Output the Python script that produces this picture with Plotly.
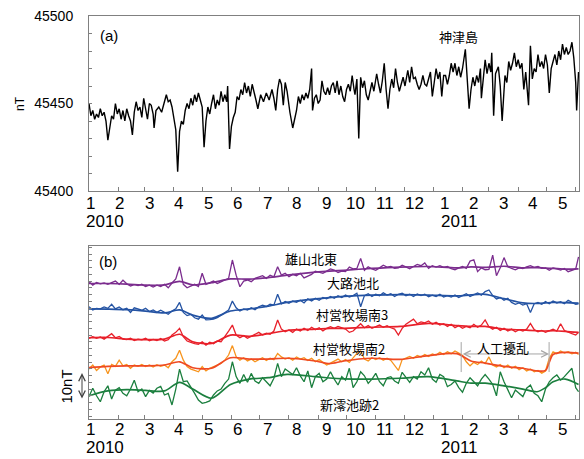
import pandas as pd
import plotly.graph_objects as go

BASE = pd.Timestamp("2010-01-01")

# ---------------- panel (a): 神津島 total intensity (nT) ----------------
a_days = [0, 2, 4, 6, 8, 10, 12, 14, 16, 18, 20, 22, 24, 26, 28, 30, 32, 34, 36, 38,
          40, 42, 44, 46, 48, 50, 52, 54, 56, 58, 60, 62, 64, 66, 68, 69, 71, 74, 77, 79,
          82, 84, 86, 88, 90, 92, 94, 96, 98, 100, 102, 104, 106, 108, 110, 112, 114, 116, 118, 120,
          122, 124, 126, 128, 130, 132, 134, 136, 138, 140, 142, 144, 146, 147, 149, 151, 153, 155, 157, 159,
          161, 163, 165, 167, 169, 171, 173, 175, 177, 179, 182, 185, 188, 191, 194, 196, 198, 200, 202, 204,
          206, 208, 210, 213, 215, 216, 218, 220, 222, 224, 226, 228, 230, 232, 234, 236, 237, 239, 241, 243,
          245, 247, 249, 251, 253, 255, 257, 259, 261, 263, 265, 267, 269, 271, 273, 275, 277, 279, 281, 282,
          284, 286, 288, 290, 292, 294, 296, 298, 300, 302, 305, 307, 309, 311, 313, 315, 317, 319, 321, 323,
          325, 327, 329, 331, 333, 335, 338, 340, 342, 344, 346, 348, 350, 352, 354, 356, 358, 360, 362, 364,
          366, 368, 370, 372, 374, 376, 378, 380, 382, 384, 386, 388, 390, 392, 394, 396, 399, 401, 403, 405,
          407, 409, 411, 413, 415, 416, 418, 420, 422, 424, 426, 427, 429, 431, 434, 436, 438, 440, 441, 443,
          445, 447, 449, 451, 453, 455, 457, 459, 461, 463, 466, 468, 470, 472, 474, 476, 478, 480, 482, 484,
          486, 488, 490, 492, 494, 496, 498, 500, 502, 504, 506, 508, 510, 512, 514, 516, 517, 519]
a_vals = [45450, 45443, 45446, 45441, 45444, 45442, 45447, 45443, 45445, 45440,
          45429, 45437, 45443, 45441, 45450, 45444, 45447, 45441, 45446, 45440,
          45447, 45443, 45440, 45432, 45445, 45451, 45446, 45448, 45442, 45453,
          45447, 45441, 45450, 45449, 45444, 45436, 45446, 45448, 45445, 45449,
          45455, 45451, 45452, 45448, 45441, 45435, 45411, 45434, 45440, 45438,
          45446, 45450, 45447, 45453, 45449, 45455, 45451, 45456, 45452, 45448,
          45425, 45440, 45448, 45444, 45450, 45455, 45447, 45452, 45449, 45457,
          45451, 45455, 45451, 45460, 45424, 45437, 45442, 45445, 45454, 45452,
          45458, 45455, 45462, 45456, 45460, 45454, 45461, 45457, 45452, 45447,
          45455, 45451, 45456, 45452, 45458, 45453, 45446, 45458, 45464, 45461,
          45449, 45462, 45457, 45445, 45440, 45436, 45441, 45446, 45454, 45450,
          45455, 45452, 45456, 45453, 45458, 45470, 45446, 45453, 45455, 45450,
          45452, 45463, 45457, 45455, 45459, 45455, 45460, 45462, 45456, 45463,
          45455, 45460, 45454, 45451, 45458, 45461, 45457, 45466, 45458, 45455,
          45464, 45430, 45465, 45459, 45463, 45455, 45452, 45458, 45462, 45457,
          45467, 45461, 45456, 45463, 45473, 45458, 45447, 45458, 45464, 45459,
          45470, 45462, 45457, 45461, 45465, 45460, 45469, 45462, 45471, 45464,
          45465, 45461, 45458, 45461, 45466, 45461, 45460, 45464, 45468, 45454,
          45463, 45470, 45464, 45468, 45454, 45466, 45466, 45461, 45466, 45473,
          45468, 45473, 45466, 45471, 45465, 45470, 45481, 45465, 45447, 45458,
          45465, 45460, 45466, 45462, 45470, 45453, 45466, 45475, 45467, 45473,
          45468, 45479, 45443, 45467, 45471, 45460, 45440, 45458, 45466, 45462,
          45474, 45469, 45473, 45479, 45471, 45475, 45470, 45473, 45458, 45468,
          45449, 45483, 45464, 45470, 45468, 45478, 45471, 45474, 45470, 45478,
          45472, 45456, 45470, 45474, 45478, 45472, 45480, 45475, 45484, 45478,
          45482, 45478, 45480, 45485, 45476, 45462, 45446, 45468]

# ---------------- panel (b): station differences (nT, relative) ----------------
b_days = list(range(0, 517, 4)) + [519]
station_names = ["雄山北東", "大路池北", "村営牧場南3", "村営牧場南2", "新澪池跡2"]

oyama_ne = [0.9, -0.4, 0.6, 0.1, 0.4, -0.1, 0.5, 1.1, -0.1, 1.4,
            0.1, -0.7, -0.2, -0.6, -0.1, -0.9, -0.4, -1.1, -0.4, -0.9,
            -0.1, -1.4, 0.4, 1.9, 6.4, -0.1, -1.4, -0.7, -0.1, -0.9,
            4.0, -0.1, 0.6, 1.1, 0.2, 0.9, 1.5, 2.1, 8.9, 3.3,
            -1.0, 1.1, 1.5, 0.9, 2.1, 2.7, 3.1, 2.1, 3.3, 2.7,
            6.4, 3.3, 4.0, 2.7, 3.6, 3.1, 4.0, 2.3, 3.1, 3.6,
            4.8, 4.3, 4.0, 4.8, 5.6, 5.2, 4.3, 4.8, 4.6, 6.3,
            5.6, 5.8, 9.5, 5.1, 6.4, 5.6, 5.1, 6.0, 7.0, 6.3,
            6.5, 5.8, 6.0, 7.0, 6.3, 5.7, 6.5, 7.3, 6.8, 7.8,
            5.8, 6.8, 6.3, 6.8, 6.2, 6.5, 5.7, 5.3, 6.0, 6.5,
            5.8, 8.5, 9.0, 4.6, 6.0, 5.3, 5.4, 10.7, 3.1, 6.0,
            9.8, 6.4, 5.8, 5.3, 6.0, 5.7, 6.4, 6.8, 6.2, 6.5,
            5.8, 6.0, 5.1, 6.0, 5.6, 5.2, 5.8, 4.6, 5.1, 5.6,
            10.1]
oji_n = [0.6, -0.6, 0.0, -0.2, 0.5, 0.0, 1.5, -0.2, 0.5, -0.5,
         0.0, -1.5, 0.2, -0.2, -0.7, 0.0, -1.2, -0.6, -1.5, -0.7,
         -1.5, -2.2, -1.0, -0.2, 2.2, -1.5, -2.7, -2.2, -3.5, -4.0,
         -2.5, -4.3, -4.2, -4.0, -3.5, -2.5, -1.5, -0.6, 2.7, 0.2,
         -1.0, -0.2, -0.6, 0.2, -0.5, 0.6, 1.2, 0.7, 1.5, 1.2,
         5.2, 1.7, 2.5, 1.9, 2.7, 2.2, 3.0, 2.0, 3.5, 2.7,
         3.7, 3.0, 4.0, 3.5, 4.4, 3.7, 4.7, 4.0, 4.9, 4.2,
         4.7, 5.6, 0.6, 4.7, 5.4, 4.4, 5.2, 4.7, 5.8, 4.9,
         5.4, 4.4, 5.2, 5.6, 4.7, 5.2, 4.4, 5.3, 4.7, 5.2,
         4.3, 4.9, 4.4, 5.2, 4.2, 4.7, 4.2, 4.9, 4.0, 4.7,
         5.4, 4.4, 5.2, 5.7, 4.9, 6.2, 6.8, 4.7, 3.5, 4.0,
         3.0, 3.7, 2.2, 1.5, 2.0, 1.2, 1.7, -1.5, 1.7, 2.2,
         1.5, 2.5, 1.7, 2.7, 2.0, 2.5, 1.7, 3.0, 2.2, 1.5,
         1.7]
farm_s3 = [-0.1, 0.5, -0.1, 0.4, -0.4, 0.6, 1.6, 0.1, 0.6, -0.4,
           -0.6, -0.1, -0.9, -0.4, -0.7, -0.1, -1.0, -0.5, -0.9, -0.2,
           -1.1, -0.6, 1.1, 2.1, 3.6, 0.5, -1.1, -1.6, -2.1, -2.3,
           -1.4, -2.6, -1.6, -2.1, -1.1, -1.4, 0.5, 2.6, 4.8, 1.1,
           0.1, 0.9, -0.1, 0.6, 1.1, 2.1, 1.1, 1.8, 1.4, 2.6,
           6.7, 3.3, 2.3, 3.0, 2.1, 3.3, 2.6, 3.6, 2.8, 4.0,
           3.1, 3.8, 2.6, 3.6, 4.2, 3.6, 4.3, 3.8, 3.3, 2.1,
           2.6, 4.0, 5.3, 3.8, 4.6, 3.6, 4.3, 4.8, 4.0, 4.6,
           3.8, 3.3, 1.1, 3.6, 5.1, 6.0, 7.0, 5.3, 6.0, 5.6,
           6.3, 5.1, 5.8, 4.8, 5.3, 4.3, 5.1, 3.8, 4.6, 3.6,
           4.3, 3.8, 5.1, 4.0, 4.8, 6.7, 4.2, 3.3, 4.0, 2.8,
           3.6, 2.6, 3.3, 2.3, 3.1, 2.6, 3.3, 5.4, 3.1, 2.3,
           2.8, 2.1, 2.6, 3.3, 2.6, 5.3, 2.8, 2.1, 1.6, 1.1,
           2.1]
farm_s2 = [-1.0, 0.5, -1.5, -0.2, 0.5, -2.7, 0.7, 0.0, 2.3, 0.2,
           0.7, -0.7, 0.5, 0.0, 0.7, -0.1, 0.5, -0.2, 0.6, 0.0,
           0.5, -0.5, 1.7, 3.0, 6.0, 2.3, -0.1, -1.0, -1.5, -2.0,
           -0.1, -1.7, -0.7, -0.2, 0.5, 1.1, 2.3, 4.2, 7.7, 3.6,
           2.3, 3.2, 2.0, 2.7, 1.7, 2.5, 3.2, 2.2, 3.0, 2.5,
           4.8, 3.5, 2.7, 3.2, 2.3, 3.5, 2.7, 3.2, 2.2, 3.0,
           1.7, 2.5, 1.5, 0.5, 1.2, 2.0, 2.7, 1.7, 2.5, 1.5,
           3.0, 4.8, 5.7, 2.7, 2.0, 3.2, 2.5, 3.2, 2.3, 3.0,
           2.2, 0.5, -1.5, 2.5, 3.2, 3.7, 3.0, 4.0, 3.5, 4.4,
           3.7, 4.6, 4.2, 5.2, 4.4, 5.4, 4.7, 5.7, 4.9, 4.0,
           1.7, 0.2, 1.5, 0.7, 2.0, 1.0, 3.5, 0.5, -0.2, 0.7,
           -0.5, 0.5, -0.7, 0.0, -1.2, -0.5, -1.7, -1.0, -2.0, -1.5,
           -2.5, -1.7, 3.0, 5.4, 4.7, 5.7, 4.9, 5.4, 4.7, 5.2,
           4.4]
shinmio2 = [-1.7, 1.4, -1.4, -3.6, 0.1, 2.3, -2.6, 0.7, 1.6, -0.5,
            -1.4, 1.1, 4.4, 0.1, 1.1, -1.7, 0.6, -0.4, 1.4, 2.1,
            -1.1, -0.5, -4.8, 1.1, 8.5, 3.8, 4.1, 2.0, -0.5, -3.0,
            -4.2, -3.8, -3.3, -1.1, 0.4, 1.1, 3.2, 4.8, 11.2, 5.7,
            3.2, 6.5, 3.6, 6.9, 4.1, 3.2, 5.3, 3.8, 2.3, 5.1,
            10.6, 5.7, 8.5, 7.5, 6.5, 9.0, 6.0, 3.8, 7.8, 1.6,
            5.7, 6.9, 3.8, 4.8, 7.5, 4.8, 2.6, 5.7, 4.4, 8.8,
            1.6, 3.8, 7.5, 6.0, 3.2, 4.8, 6.9, 3.8, 2.3, 5.3,
            5.7, 4.1, 3.2, 7.3, 5.3, 3.6, 5.7, 4.8, 7.5, 6.3,
            9.0, 4.8, 3.6, 6.5, 5.7, 2.0, 2.8, 4.1, 1.6, -0.1,
            3.2, 5.3, 3.8, 2.3, 4.8, 6.5, 4.8, 2.8, -1.4, 7.5,
            3.8, 1.1, -2.1, 0.7, -0.5, -1.7, 1.4, 2.6, -0.5, -1.4,
            -3.6, 1.1, 3.8, 5.3, 6.3, 4.4, 5.7, 7.3, 8.8, 1.6,
            0.1]

# smoothed (trend) curves
smooth_days = [0, 20, 40, 60, 80, 96, 110, 130, 150, 170, 190, 210, 240, 255,
               270, 300, 330, 360, 390, 405, 420, 440, 460, 475, 484, 492, 505, 519]
oyama_ne_s = [0.2, 0.2, 0.0, -0.4, -0.3, 1.0, -0.3, 0.5, 1.9, 1.8, 2.4, 3.3, 4.4, 4.8,
              5.1, 5.8, 6.3, 6.5, 6.0, 6.4, 6.2, 6.6, 6.0, 6.1, 5.9, 5.8, 5.5, 5.6]
oji_n_s = [-0.2, -0.3, -0.5, -1.0, -1.7, -0.6, -2.5, -3.7, -1.0, -0.2, 0.8, 2.2, 3.5, 4.0,
           4.4, 4.9, 5.1, 4.9, 4.6, 5.0, 5.2, 3.6, 2.0, 1.8, 2.0, 2.2, 2.1, 1.9]
farm_s3_s = [0.1, 0.2, -0.4, -0.6, -0.4, 1.4, -1.4, -2.0, 1.1, 0.6, 1.6, 2.8, 3.3, 3.6,
             3.6, 4.0, 4.3, 5.4, 4.6, 4.3, 4.3, 3.3, 3.0, 2.7, 2.6, 2.7, 2.5, 2.1]
farm_s2_s = [-0.5, 0.0, 0.2, 0.2, 0.5, 1.7, -0.5, -0.7, 3.2, 2.7, 2.7, 3.0, 2.0, 1.0,
             2.0, 3.0, 2.6, 4.0, 4.7, 2.0, 1.2, 0.0, -0.7, -1.7, -1.5, 4.4, 5.2, 4.9]
shinmio2_s = [-1.4, 0.4, 0.9, 0.6, 0.4, 3.6, 1.1, -2.3, 2.8, 4.8, 5.3, 6.5, 5.7, 5.2,
              4.9, 4.8, 5.1, 5.7, 4.1, 3.3, 3.3, 2.3, 1.1, 0.1, 1.6, 3.8, 4.8, 2.8]

# artificial disturbance period (days from 2010-01-01) and scale bar
disturb_start, disturb_end = 394.6, 487.8
scale_nT = 10

month_labels = ["1", "2", "3", "4", "5", "6", "7", "8", "9", "10", "11", "12",
                "1", "2", "3", "4", "5"]
year_labels = ["2010", "2011"]

# ---------------- styling / layout (positions) ----------------
raw_series = [oyama_ne, oji_n, farm_s3, farm_s2, shinmio2]
smooth_series = [oyama_ne_s, oji_n_s, farm_s3_s, farm_s2_s, shinmio2_s]
offsets = [50, 41, 30, 19.5, 10]
raw_colors = ["#7b2d8e", "#2453a3", "#e8202a", "#f7941d", "#1b7f3e"]
smooth_colors = ["#7b2d8e", "#2453a3", "#e8202a", "#ef4a23", "#1b7f3e"]
label_pos = [(235, 59.6), (280, 50.4), (279, 38.9), (276, 26.3), (276, 5.2)]


def to_dates(days):
    return BASE + pd.to_timedelta(pd.Series(days, dtype=float), unit="D")


W, H = 584, 459
L, R, T, B = 89, 5, 16, 40
PW, PH = W - L - R, H - T - B


def px_x(px):
    return (px - L) / PW


def px_y(py):
    return (H - B - py) / PH


FONT = "Liberation Sans, Arial, sans-serif"
JFONT = "Noto Sans CJK JP, sans-serif"

fig = go.Figure()

fig.add_trace(go.Scatter(x=to_dates(a_days), y=a_vals, mode="lines",
                         line=dict(color="black", width=1.4), xaxis="x", yaxis="y",
                         showlegend=False, hoverinfo="skip"))

for vals, svals, off, rc, sc in zip(raw_series, smooth_series, offsets, raw_colors, smooth_colors):
    fig.add_trace(go.Scatter(x=to_dates(b_days), y=[v + off for v in vals], mode="lines",
                             line=dict(color=rc, width=1.3), xaxis="x2", yaxis="y2",
                             showlegend=False, hoverinfo="skip"))
    fig.add_trace(go.Scatter(x=to_dates(smooth_days), y=[v + off for v in svals], mode="lines",
                             line=dict(color=sc, width=1.7, shape="spline", smoothing=0.8),
                             xaxis="x2", yaxis="y2", showlegend=False, hoverinfo="skip"))

x_end = BASE + pd.Timedelta(days=519.5)
month_ticks = pd.date_range("2010-02-01", "2011-06-01", freq="MS")
xcommon = dict(type="date", range=[BASE, x_end], tickvals=month_ticks, showticklabels=False,
               ticks="inside", ticklen=4, tickcolor="#808080", showline=True, linecolor="#808080",
               linewidth=1, mirror=True, showgrid=False, zeroline=False, automargin=False)

dom_a = [px_y(191), 1.0]
dom_b = [0.0, px_y(246)]

ya_ticks = list(range(45400, 45501, 10))
yb_ticks = [1.1 + 2.5 * k for k in range(26)]

fig.update_layout(
    template="none",
    width=W, height=H, margin=dict(l=L, r=R, t=T, b=B, autoexpand=False),
    paper_bgcolor="white", plot_bgcolor="white",
    font=dict(family=FONT, color="black"),
    xaxis=dict(domain=[0, 1], anchor="y", **xcommon),
    xaxis2=dict(domain=[0, 1], anchor="y2", **xcommon),
    yaxis=dict(domain=dom_a, anchor="x", range=[45400, 45500], tickvals=ya_ticks,
               ticktext=[str(v) if v % 50 == 0 else "" for v in ya_ticks],
               ticks="inside", ticklen=3, tickcolor="#808080", showline=True, linecolor="#808080",
               linewidth=1, mirror=True, showgrid=False, zeroline=False, tickfont=dict(size=14),
               ticklabelstandoff=12, automargin=False),
    yaxis2=dict(domain=dom_b, anchor="x2", range=[0, 64.1], tickvals=yb_ticks,
                showticklabels=False, ticks="inside", ticklen=3, tickcolor="#808080",
                showline=True, linecolor="#808080", linewidth=1, mirror=True, showgrid=False,
                zeroline=False, automargin=False),
)

ann = []
# month / year labels under both panels
for row_m, row_y in ((203, 221), (429, 447.5)):
    for i, lab in enumerate(month_labels):
        ann.append(dict(text=lab, xref="paper", yref="paper", x=px_x(90 + 29.5 * i), y=px_y(row_m),
                        xanchor="center", yanchor="middle", showarrow=False, borderpad=0,
                        font=dict(size=17, family=FONT)))
    for lab, lx in zip(year_labels, (85, 440)):
        ann.append(dict(text=lab, xref="paper", yref="paper", x=px_x(lx), y=px_y(row_y),
                        xanchor="left", yanchor="middle", showarrow=False, borderpad=0,
                        font=dict(size=17, family=FONT)))

ann.append(dict(text="nT", xref="paper", yref="paper", x=px_x(20), y=px_y(104), textangle=-90,
                xanchor="center", yanchor="middle", showarrow=False, font=dict(size=12, family=FONT)))
ann.append(dict(text="(a)", xref="paper", yref="paper", x=px_x(109), y=px_y(35),
                xanchor="center", yanchor="middle", showarrow=False, font=dict(size=15, family=FONT)))
ann.append(dict(text="神津島", xref="paper", yref="paper", x=px_x(458), y=px_y(36),
                xanchor="center", yanchor="middle", showarrow=False, font=dict(size=13, family=JFONT)))
ann.append(dict(text="(b)", xref="paper", yref="paper", x=px_x(108), y=px_y(261),
                xanchor="center", yanchor="middle", showarrow=False, font=dict(size=15, family=FONT)))

for name, (ld, ly) in zip(station_names, label_pos):
    ann.append(dict(text=name, xref="x2", yref="y2", x=BASE + pd.Timedelta(days=ld), y=ly,
                    xanchor="center", yanchor="middle", showarrow=False,
                    font=dict(size=13, family=JFONT)))

# artificial disturbance marker
d0 = BASE + pd.Timedelta(days=disturb_start)
d1 = BASE + pd.Timedelta(days=disturb_end)
ann.append(dict(text="", xref="x2", yref="y2", x=d1, y=24.1, axref="x2", ayref="y2", ax=d0, ay=24.1,
                showarrow=True, arrowside="end+start", arrowhead=5, startarrowhead=5,
                arrowsize=1.3, startarrowsize=1.3, arrowwidth=1, arrowcolor="#a6a6a6",
                standoff=0, startstandoff=0))
ann.append(dict(text="人工擾乱", xref="x2", yref="y2", x=BASE + pd.Timedelta(days=438.6), y=26.6,
                xanchor="center", yanchor="middle", showarrow=False, font=dict(size=13, family=JFONT)))

# 10 nT scale bar
ann.append(dict(text="", xref="paper", yref="y2", x=px_x(82), y=7.0 + scale_nT, axref="pixel",
                ayref="y2", ax=0, ay=7.0, showarrow=True, arrowside="end+start", arrowhead=5,
                startarrowhead=5, arrowsize=1.3, startarrowsize=1.3, arrowwidth=1,
                arrowcolor="#404040", standoff=0, startstandoff=0))
ann.append(dict(text="10nT", xref="paper", yref="y2", x=px_x(67), y=7.0 + scale_nT / 2,
                textangle=-90, xanchor="center", yanchor="middle", showarrow=False,
                font=dict(size=15, family=FONT)))

shapes = []
for dd in (d0, d1):
    shapes.append(dict(type="line", xref="x2", yref="y2", x0=dd, x1=dd, y0=17.4, y1=28.5,
                       line=dict(color="#a6a6a6", width=1)))

fig.update_layout(annotations=ann, shapes=shapes)
fig.write_html("out.html", config={"displayModeBar": False},
               post_script="document.body.style.margin='0';document.body.style.padding='0';")
